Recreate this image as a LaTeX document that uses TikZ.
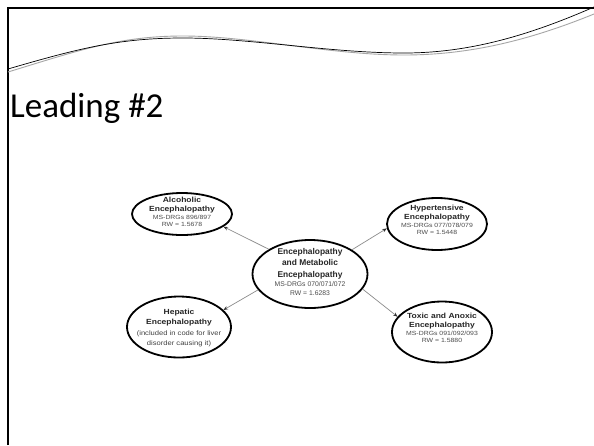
\documentclass[tikz,border=0pt]{standalone}
\usepackage{fontspec}
\setmainfont{Liberation Sans}
\newfontfamily\titlefont{Carlito}
\newfontfamily\widesans[FakeStretch=1.15]{Liberation Sans}
\usetikzlibrary{shapes.geometric,arrows.meta}
\newcommand\censmall{\mdseries\fontsize{6.8}{9}\selectfont\color{black!70}}
\newcommand\outsmall{\mdseries\fontsize{6}{7.6}\selectfont\color{black!70}}
\newcommand\hepsmall{\mdseries\fontsize{6.6}{10}\selectfont\color{black!75}}
\begin{document}
\begin{tikzpicture}[x=1pt,y=-1pt,
  bubble/.style={ellipse, draw=black, line width=1.8pt, inner sep=0pt},
  link/.style={draw=black!45, line width=0.7pt, -{Stealth[length=4.5pt,width=3.5pt,color=black!80]}},
  ctext/.style={align=center, inner sep=0pt, text=black!85, font=\bfseries\fontsize{8.4}{11.5}\selectfont},
  otext/.style={align=center, inner sep=0pt, text=black!85, font=\widesans\bfseries\fontsize{7.4}{8.6}\selectfont},
  frameline/.style={draw=black, line width=1.6pt},
]
\fill[white] (0,0) rectangle (594,445);
\useasboundingbox (0,0) rectangle (594,445);

% frame
\draw[frameline] (8,445) -- (8,8) -- (594,8);

% wave
\draw[black!35, line width=0.9pt] (8,72) .. controls (80,50) and (120,36) .. (183,36) .. controls (250,36) and (330,55) .. (404,55) .. controls (470,55) and (530,40) .. (594,14);
\draw[black, line width=0.7pt] (8,69) .. controls (80,48) and (120,38) .. (183,38) .. controls (250,38) and (330,53) .. (404,53) .. controls (470,53) and (530,35) .. (594,7);

% title
\node[anchor=base west, inner sep=0pt, font=\titlefont\fontsize{35}{42}\selectfont] (title) at (10,117) {Leading \#2};

% bubbles
\node[bubble, minimum width=115pt, minimum height=68pt] (cen) at (310,274) {};
\node[bubble, minimum width=100pt, minimum height=42pt] (alc) at (182,214) {};
\node[bubble, minimum width=100pt, minimum height=52pt] (hyp) at (437,224) {};
\node[bubble, minimum width=104pt, minimum height=61pt] (hep) at (179,327) {};
\node[bubble, minimum width=100pt, minimum height=61pt] (tox) at (442,332) {};

% texts
\node[ctext] (cent) at (310,272) {Encephalopathy\\and Metabolic\\Encephalopathy\\[-2pt]\censmall MS-DRGs 070/071/072\\[-2.5pt]\censmall RW = 1.6283};
\node[otext] (alct) at (182,212) {Alcoholic\\Encephalopathy\\[-0.8pt]\outsmall MS-DRGs 896/897\\[-1.3pt]\outsmall RW = 1.5678};
\node[otext] (hypt) at (437,220) {Hypertensive\\Encephalopathy\\[-0.8pt]\outsmall MS-DRGs 077/078/079\\[-1.3pt]\outsmall RW = 1.5448};
\node[otext] (hept) at (179,328) {Hepatic\\[1.5pt]Encephalopathy\\[2pt]\hepsmall (included in code for liver\\[1.5pt]\hepsmall disorder causing it)};
\node[otext] (toxt) at (442,328) {Toxic and Anoxic\\Encephalopathy\\[-0.8pt]\outsmall MS-DRGs 091/092/093\\[-1.3pt]\outsmall RW = 1.5880};

% connectors
\draw[link] (cen.149) -- (alc.343);
\draw[link] (cen.30) -- (hyp.185);
\draw[link] (cen.197) -- (hep.21);
\draw[link] (cen.344) -- (tox.161);
\end{tikzpicture}
\end{document}
